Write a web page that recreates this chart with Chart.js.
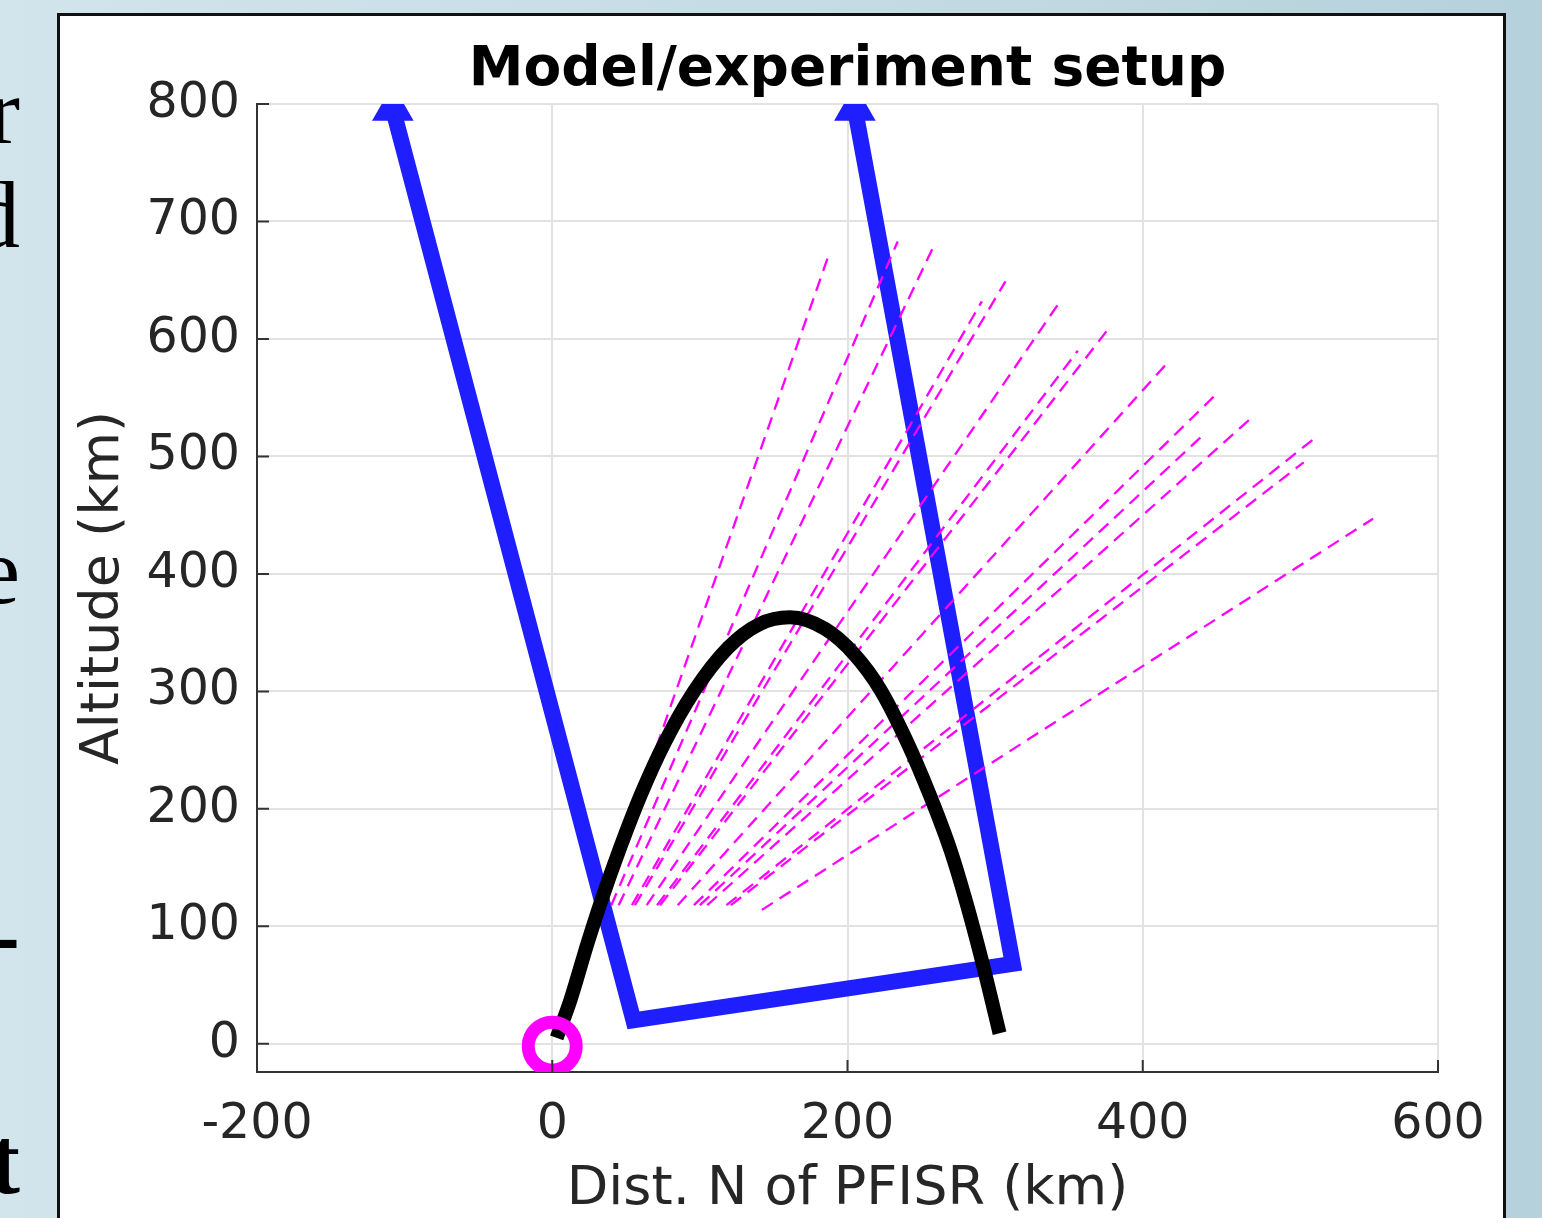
<!DOCTYPE html>
<html lang="en">
<head>
<meta charset="UTF-8">
<title>Model/experiment setup</title>
<script src="https://cdn.jsdelivr.net/npm/chart.js"></script>
<style>
  html, body { margin: 0; padding: 0; }
  body {
    width: 1542px; height: 1218px; position: relative; overflow: hidden;
    background: linear-gradient(90deg, #d2e4ec 0%, #c4dbe4 55%, #b5d1db 100%);
  }
  .side { position: absolute; right: 1522px; font-family: 'Liberation Serif', serif; font-size: 96px; line-height: 96px; color: #000; }
  #panel { position: absolute; left: 57px; top: 13px; width: 1443px; height: 1300px; background: #fff; border: 3px solid #111; }
  #chart { position: absolute; left: 0; top: 0; }
</style>
</head>
<body>
<div class="side" style="top:63px">r</div>
<div class="side" style="top:167px">d</div>
<div class="side" style="top:523px">e</div>
<div class="side" style="top:886px; font-weight:bold">-</div>
<div class="side" style="top:1113px; font-weight:bold">t</div>
<div id="panel"></div>
<canvas id="chart" width="1542" height="1218"></canvas>

<script>
// axis ticks
const xTicks = [-200, 0, 200, 400, 600];
const yTicks = [0, 100, 200, 300, 400, 500, 600, 700, 800];

// model grid outline (blue triangles)
const gridX   = [-108, 55, 312, 205];
const gridAlt = [796, 20, 68, 796];

// trajectory (black)
const trajX   = [3, 12, 24, 33, 46, 60, 76, 96, 119, 140, 161, 185, 205, 222, 240, 256, 270, 281, 292, 303];
const trajAlt = [5, 36, 86, 121, 167, 212, 256, 300, 337, 357, 363, 353, 331, 302, 258, 211, 164, 118, 66, 9];

// radar site
const siteX   = [0];
const siteAlt = [-2];

// radar beams (magenta dashed), start and end of each beam
const beamX0   = [33, 40, 45, 54, 56, 64, 71, 73, 85, 96, 100, 105, 118, 121, 142];
const beamAlt0 = [118, 118, 118, 118, 118, 118, 118, 118, 118, 118, 118, 118, 118, 118, 114];
const beamX1   = [188, 234, 258, 291, 307, 344, 356, 377, 417, 449, 439, 472, 517, 509, 556];
const beamAlt1 = [674, 683, 678, 632, 649, 632, 590, 609, 580, 552, 516, 531, 516, 495, 447];

const FONT = "'DejaVu Sans', sans-serif";
const TXT = '#262626';

const beamSets = beamX0.map((x0, i) => ({
    data: [{x: x0, y: beamAlt0[i]}, {x: beamX1[i], y: beamAlt1[i]}],
    borderColor: '#ff00ff',
    borderWidth: 2.3,
    borderDash: [13, 8],
    pointRadius: 0,
    showLine: true,
    order: 2
}));

// inward tick marks like the original axes
const inwardTicks = {
    id: 'inwardTicks',
    afterDatasetsDraw(chart) {
        const {ctx, chartArea, scales: {x, y}} = chart;
        ctx.save();
        ctx.strokeStyle = '#333';
        ctx.lineWidth = 2;
        ctx.beginPath();
        xTicks.forEach(v => {
            const px = x.getPixelForValue(v);
            ctx.moveTo(px, chartArea.bottom);
            ctx.lineTo(px, chartArea.bottom - 12);
        });
        yTicks.forEach(v => {
            const py = y.getPixelForValue(v);
            ctx.moveTo(chartArea.left, py);
            ctx.lineTo(chartArea.left + 12, py);
        });
        ctx.stroke();
        ctx.restore();
    }
};

new Chart(document.getElementById('chart'), {
    type: 'scatter',
    data: {
        datasets: [
            {
                data: siteX.map((x, i) => ({x: x, y: siteAlt[i]})),
                pointStyle: 'circle',
                pointRadius: 24,
                pointBorderWidth: 13,
                pointBorderColor: '#ff00ff',
                pointBackgroundColor: 'rgba(0,0,0,0)',
                order: 0
            },
            {
                data: trajX.map((x, i) => ({x: x, y: trajAlt[i]})),
                showLine: true,
                borderColor: '#000',
                borderWidth: 14,
                borderCapStyle: 'butt',
                cubicInterpolationMode: 'monotone',
                pointRadius: 0,
                order: 1
            },
            ...beamSets,
            {
                data: gridX.map((x, i) => ({x: x, y: gridAlt[i]})),
                showLine: true,
                borderColor: '#1e1eff',
                borderWidth: 16,
                borderJoinStyle: 'miter',
                pointStyle: 'triangle',
                pointRadius: c => (c.dataIndex === 0 || c.dataIndex === gridX.length - 1) ? 8 : 0,
                pointBackgroundColor: '#1e1eff',
                pointBorderColor: '#1e1eff',
                order: 3
            }
        ]
    },
    options: {
        responsive: false,
        animation: false,
        layout: { padding: { left: 60, right: 104, top: 0, bottom: 0 } },
        plugins: {
            legend: { display: false },
            tooltip: { enabled: false },
            title: {
                display: true,
                text: 'Model/experiment setup',
                fullSize: false,
                color: '#000',
                font: { family: FONT, size: 55, weight: 'bold' },
                padding: { top: 38, bottom: 0 }
            }
        },
        scales: {
            x: {
                type: 'linear',
                min: -200,
                max: 600,
                afterBuildTicks: s => { s.ticks = xTicks.map(v => ({value: v})); },
                afterFit: s => { s.height = 146; },
                grid: { color: '#e2e2e2', lineWidth: 2, drawTicks: false },
                border: { color: '#333', width: 2 },
                ticks: { color: TXT, padding: 24, font: { family: FONT, size: 49 }, maxRotation: 0 },
                title: {
                    display: true,
                    text: 'Dist. N of PFISR (km)',
                    color: TXT,
                    font: { family: FONT, size: 54 },
                    padding: { top: 0, bottom: -4 }
                }
            },
            y: {
                type: 'linear',
                min: -24,
                max: 800,
                afterBuildTicks: s => { s.ticks = yTicks.map(v => ({value: v})); },
                afterFit: s => { s.width = 197; },
                grid: { color: '#e2e2e2', lineWidth: 2, drawTicks: false },
                border: { color: '#333', width: 2 },
                ticks: { color: TXT, padding: 17, font: { family: FONT, size: 49 } },
                title: {
                    display: true,
                    text: 'Altitude (km)',
                    color: TXT,
                    font: { family: FONT, size: 54 },
                    padding: { top: 12, bottom: 0 }
                }
            }
        }
    },
    plugins: [inwardTicks]
});
</script>
</body>
</html>
